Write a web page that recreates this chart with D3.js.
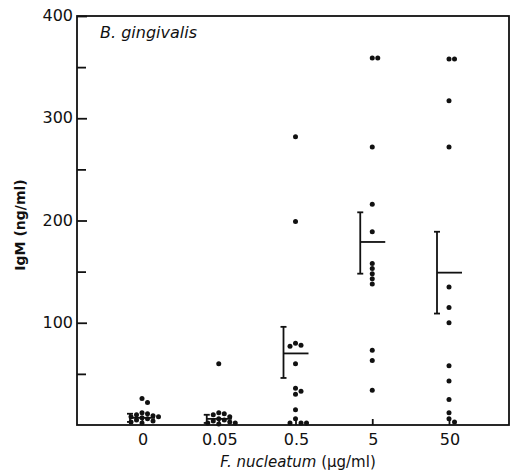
<!DOCTYPE html>
<html lang="en">
<head>
  <meta charset="UTF-8">
  <title>IgM vs F. nucleatum</title>
  <script src="https://d3js.org/d3.v7.min.js"></script>
  <style>
    body { margin: 0; background: #fff; }
    svg { display: block; }
    text { font-family: "DejaVu Sans", sans-serif; fill: #111; }
  </style>
</head>
<body>
  <script>
    // doses of F. nucleatum (ug/ml)
    const doses = ["0", "0.05", "0.5", "5", "50"];

    // individual IgM values (ng/ml)
    const igm0 = [26, 22, 12, 11, 10, 9, 8, 8, 7, 6, 5, 4, 3, 2];
    const igm005 = [60, 12, 11, 10, 8, 6, 5, 4, 3, 2, 2, 1];
    const igm05 = [282, 199, 80, 78, 77, 60, 36, 33, 30, 15, 6, 2, 2, 2];
    const igm5 = [359, 359, 272, 216, 189, 158, 153, 148, 143, 138, 73, 63, 34];
    const igm50 = [358, 358, 317, 272, 135, 115, 100, 58, 43, 25, 12, 6, 3];
    const groups = [igm0, igm005, igm05, igm5, igm50];

    // group mean and error bar ends
    const means = [7, 6, 70, 179, 149];
    const errLow = [3, 2, 46, 148, 109];
    const errHigh = [11, 10, 96, 208, 189];

    const yTicks = [100, 200, 300, 400];
    const yMinor = [50, 150, 250, 350];

    const width = 514, height = 470;
    const margin = { top: 16, right: 4, bottom: 45, left: 77 };

    const svg = d3.select("body").append("svg")
      .attr("width", width)
      .attr("height", height);

    const x = d3.scalePoint()
      .domain(doses)
      .range([142, 449]);

    const y = d3.scaleLinear()
      .domain([0, 400])
      .range([height - margin.bottom, margin.top]);

    // frame
    svg.append("rect")
      .attr("x", margin.left)
      .attr("y", margin.top)
      .attr("width", width - margin.left - margin.right - 1)
      .attr("height", height - margin.top - margin.bottom)
      .attr("fill", "none")
      .attr("stroke", "#111")
      .attr("stroke-width", 1.8);

    // y axis, ticks pointing into the plot
    svg.append("g")
      .attr("transform", `translate(${margin.left},0)`)
      .call(d3.axisRight(y).tickValues(yTicks).tickSize(10).tickFormat(""))
      .call(g => g.select(".domain").remove())
      .call(g => g.selectAll("line").attr("stroke", "#111").attr("stroke-width", 1.8));

    svg.append("g")
      .attr("transform", `translate(${margin.left},0)`)
      .call(d3.axisRight(y).tickValues(yMinor).tickSize(9).tickFormat(""))
      .call(g => g.select(".domain").remove())
      .call(g => g.selectAll("line").attr("stroke", "#111").attr("stroke-width", 1.8));

    svg.append("g")
      .selectAll("text")
      .data(yTicks)
      .join("text")
      .attr("x", margin.left - 4)
      .attr("y", d => y(d) + 5)
      .attr("text-anchor", "end")
      .attr("font-size", 16)
      .text(d => d);

    // x axis, ticks upward
    svg.append("g")
      .attr("transform", `translate(0,${height - margin.bottom})`)
      .call(d3.axisTop(x).tickSize(6).tickFormat(""))
      .call(g => g.select(".domain").remove())
      .call(g => g.selectAll("line").attr("stroke", "#111").attr("stroke-width", 1.8));

    svg.append("g")
      .selectAll("text")
      .data(doses)
      .join("text")
      .attr("x", d => x(d) + 1)
      .attr("y", height - margin.bottom + 20)
      .attr("text-anchor", "middle")
      .attr("font-size", 16)
      .text(d => d);

    // axis titles
    const xt = svg.append("text")
      .attr("x", 298)
      .attr("y", 467)
      .attr("text-anchor", "middle")
      .attr("font-size", 15);
    xt.append("tspan").attr("font-style", "italic").text("F. nucleatum");
    xt.append("tspan").text(" (\u00b5g/ml)");

    svg.append("text")
      .attr("transform", "translate(25,225) rotate(-90)")
      .attr("text-anchor", "middle")
      .attr("font-size", 14)
      .attr("font-weight", 600)
      .text("IgM (ng/ml)");

    svg.append("text")
      .attr("x", 100)
      .attr("y", 38)
      .attr("font-size", 16)
      .attr("font-style", "italic")
      .text("B. gingivalis");

    // dots, nudged sideways when they would overlap
    const r = 2.5, step = 5.5;
    const dots = [];
    groups.forEach((vals, gi) => {
      const placed = [];
      vals.forEach(v => {
        const py = y(v);
        let k = 0, dx = 0;
        while (true) {
          dx = k === 0 ? 0 : (k % 2 ? 1 : -1) * Math.ceil(k / 2) * step;
          const hit = placed.some(p => Math.hypot(p.dx - dx, p.py - py) < step - 0.5);
          if (!hit) break;
          k++;
        }
        placed.push({ dx, py });
        dots.push({ cx: x(doses[gi]) + dx, cy: py });
      });
    });

    svg.append("g")
      .selectAll("circle")
      .data(dots)
      .join("circle")
      .attr("cx", d => d.cx)
      .attr("cy", d => d.cy)
      .attr("r", r)
      .attr("fill", "#111");

    // mean + error bars (drawn left of the dots)
    const bars = svg.append("g")
      .attr("stroke", "#111")
      .attr("stroke-width", 1.8)
      .selectAll("g")
      .data(doses)
      .join("g");

    bars.append("line")
      .attr("x1", d => x(d) - 12)
      .attr("x2", d => x(d) - 12)
      .attr("y1", (d, i) => y(errLow[i]))
      .attr("y2", (d, i) => y(errHigh[i]));
    bars.append("line")
      .attr("x1", d => x(d) - 15)
      .attr("x2", d => x(d) - 9)
      .attr("y1", (d, i) => y(errLow[i]))
      .attr("y2", (d, i) => y(errLow[i]));
    bars.append("line")
      .attr("x1", d => x(d) - 15)
      .attr("x2", d => x(d) - 9)
      .attr("y1", (d, i) => y(errHigh[i]))
      .attr("y2", (d, i) => y(errHigh[i]));
    bars.append("line")
      .attr("x1", d => x(d) - 12)
      .attr("x2", d => x(d) + 13)
      .attr("y1", (d, i) => y(means[i]))
      .attr("y2", (d, i) => y(means[i]));
  </script>
</body>
</html>
